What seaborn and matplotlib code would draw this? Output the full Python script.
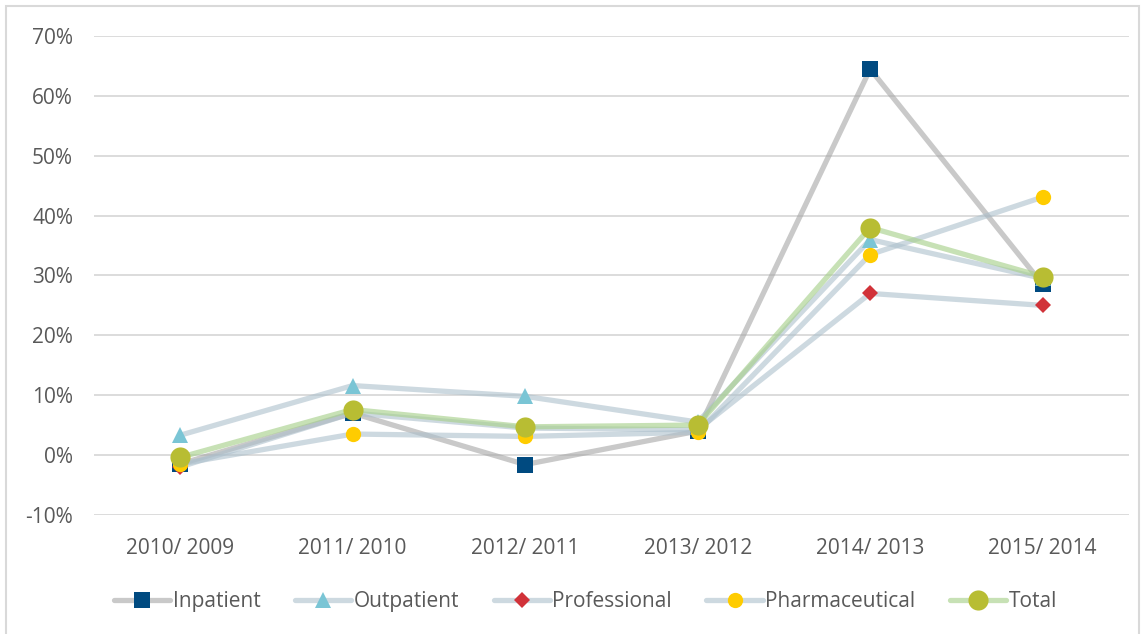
import pandas as pd
import seaborn as sns
import matplotlib.pyplot as plt
from matplotlib.patches import Rectangle
from matplotlib.ticker import FuncFormatter

# Year-over-year growth (%)
periods = ['2010/ 2009', '2011/ 2010', '2012/ 2011', '2013/ 2012', '2014/ 2013', '2015/ 2014']
inpatient = [-1.5, 7.0, -1.6, 4.0, 64.5, 28.5]
outpatient = [3.3, 11.6, 9.8, 5.5, 36.0, 29.5]
professional = [-2.0, 7.0, 4.5, 4.2, 27.0, 25.0]
pharmaceutical = [-1.5, 3.5, 3.1, 3.8, 33.5, 43.1]
total = [-0.4, 7.6, 4.7, 5.0, 38.0, 29.8]

df = pd.DataFrame({'period': periods, 'Inpatient': inpatient, 'Outpatient': outpatient,
                   'Professional': professional, 'Pharmaceutical': pharmaceutical, 'Total': total})
long_df = df.melt(id_vars='period', var_name='series', value_name='growth')

# line color (with alpha), marker, marker color, marker size
styles = {
    'Inpatient': ((0.647, 0.647, 0.647, 0.6), 's', '#004a80', 11),
    'Outpatient': ((0.678, 0.753, 0.8, 0.6), '^', '#7ac5d5', 11),
    'Professional': ((0.678, 0.753, 0.8, 0.6), 'D', '#d13239', 8.5),
    'Pharmaceutical': ((0.678, 0.753, 0.8, 0.6), 'o', '#ffcc00', 11),
    'Total': ((0.663, 0.82, 0.557, 0.65), 'o', '#b8bd33', 14.5),
}

sns.set_style('white')
plt.rcParams['font.family'] = ['Open Sans', 'DejaVu Sans']

fig = plt.figure(figsize=(11.45, 6.34), dpi=100)
ax = fig.add_axes([0.082, 0.188, 0.904, 0.755])

for name, (lc, mk, mc, ms) in styles.items():
    sub = long_df[long_df['series'] == name]
    sns.lineplot(data=sub, x='period', y='growth', ax=ax, errorbar=None, sort=False,
                 color=lc, linewidth=3.8, marker=mk, markersize=ms,
                 markerfacecolor=mc, markeredgecolor=mc, markeredgewidth=0, label=name)

ax.set_ylim(-10, 70)
ax.set_xlim(-0.5, 5.5)
ax.set_yticks(range(-10, 71, 10))
ax.yaxis.set_major_formatter(FuncFormatter(lambda v, p: f'{v:.0f}%'))
ax.grid(axis='y', color='#d9d9d9', linewidth=1.3)
ax.set_axisbelow(True)
for s in ax.spines.values():
    s.set_visible(False)
ax.tick_params(axis='both', length=0, labelsize=15, colors='#595959')
ax.tick_params(axis='y', pad=15)
ax.tick_params(axis='x', pad=17)
ax.set_xlabel('')
ax.set_ylabel('')

ax.legend(loc='center', bbox_to_anchor=(0.475, -0.182), ncol=5, frameon=False,
          fontsize=15, labelcolor='#595959', handlelength=2.7, handletextpad=0.12,
          columnspacing=1.65)

fig.patches.append(Rectangle((6 / 1145, -0.05), 1133 / 1145, 1.0 - 6 / 634 + 0.05,
                             transform=fig.transFigure, fill=False,
                             edgecolor='#d9d9d9', linewidth=1.5))

fig.savefig('out.png', dpi=100)
